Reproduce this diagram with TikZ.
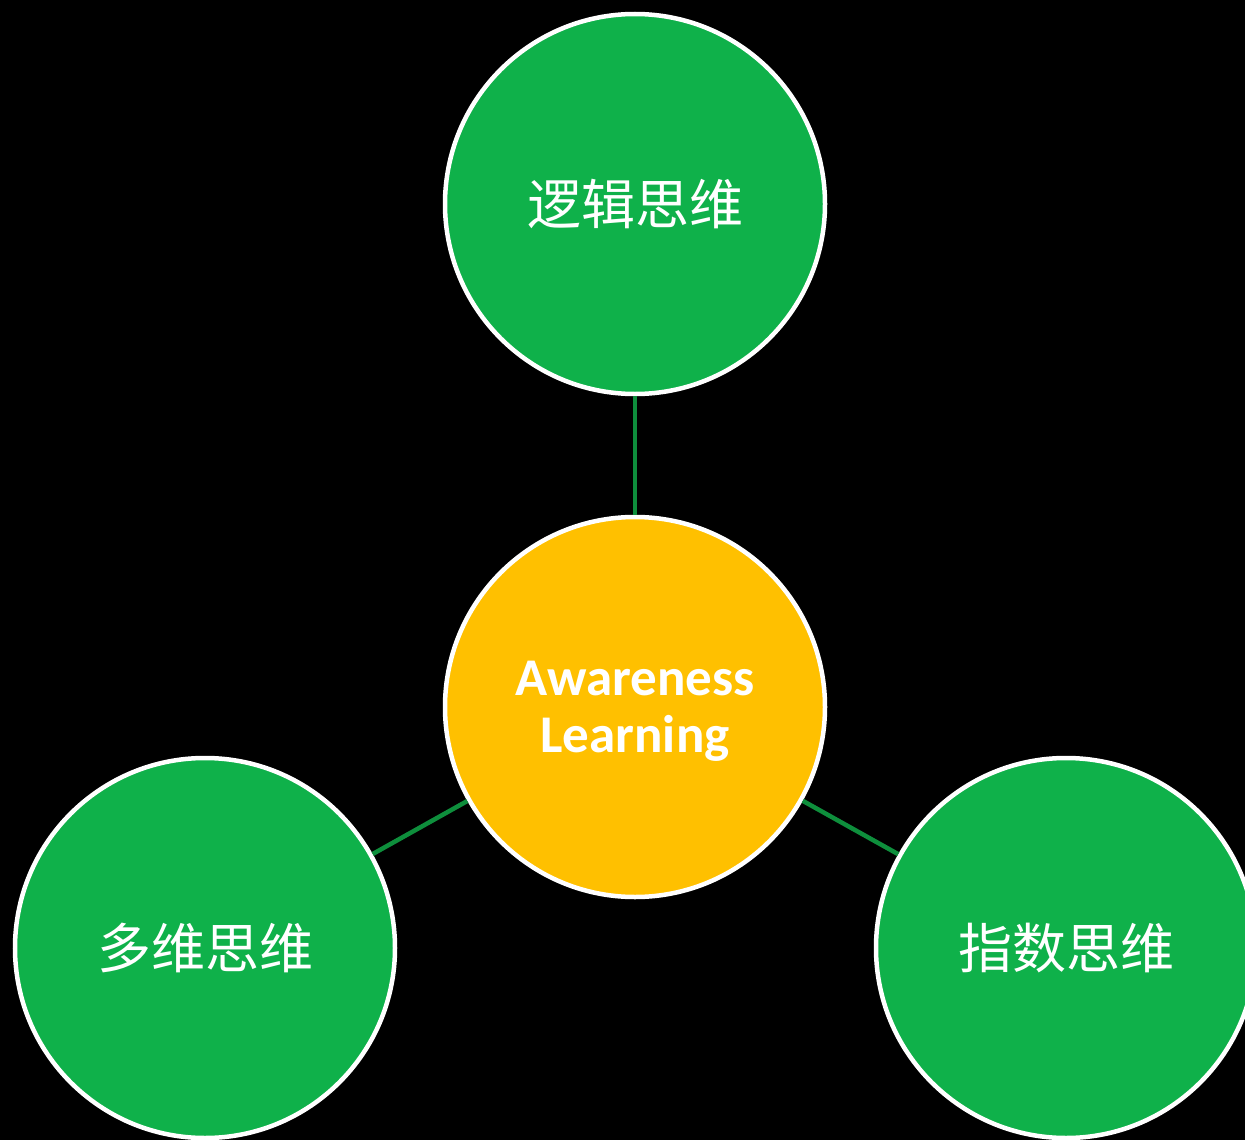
\documentclass[tikz,border=0pt]{standalone}
\usepackage{fontspec}
\setmainfont{Carlito}
\newfontfamily\cjk{Noto Sans CJK SC}
\definecolor{bubgreen}{HTML}{0FB14A}
\definecolor{bubyellow}{HTML}{FFC000}
\definecolor{linkgreen}{HTML}{0E8E3C}
\begin{document}
\begin{tikzpicture}[x=1pt,y=-1pt,
  bubble/.style={circle,draw=white,line width=4.5pt,minimum size=380pt,inner sep=0pt,text=white,align=center},
  gbubble/.style={bubble,fill=bubgreen,font=\cjk\fontsize{54}{60}\selectfont},
  ybubble/.style={bubble,fill=bubyellow,font=\bfseries\fontsize{53}{57}\selectfont},
  link/.style={draw=linkgreen,line width=4.5pt}]
\fill[black] (0,0) rectangle (1245,1140);
\useasboundingbox (0,0) rectangle (1245,1140);
\node[gbubble] (top) at (635,204) {逻辑思维};
\node[ybubble] (mid) at (635,707) {};
\node[text=white,font=\bfseries\fontsize{53}{57}\selectfont,align=center] (midtext) at (635,711) {Awareness\\Learning};
\node[gbubble] (left) at (205,948) {多维思维};
\node[gbubble] (right) at (1066,948) {指数思维};
\draw[link] (top) -- (mid);
\draw[link] (mid) -- (left);
\draw[link] (mid) -- (right);
\end{tikzpicture}
\end{document}
